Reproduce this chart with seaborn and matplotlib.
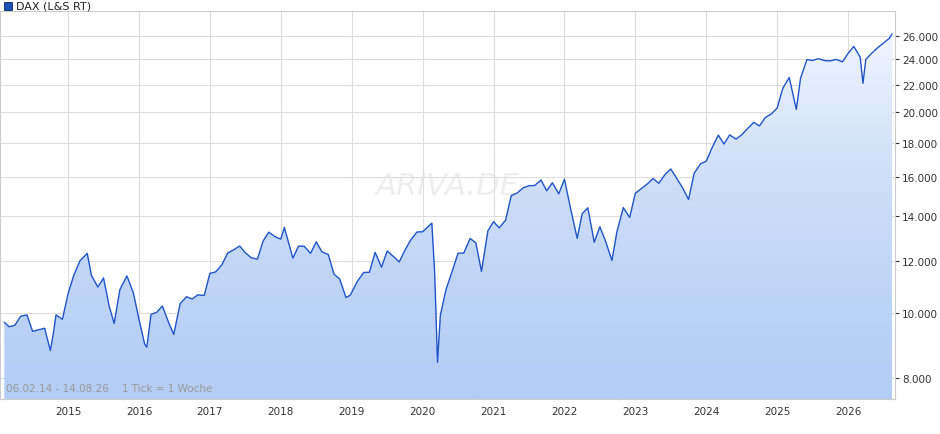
import numpy as np
import pandas as pd
import matplotlib
matplotlib.use("Agg")
import matplotlib.pyplot as plt
import matplotlib.ticker as mticker
from matplotlib.colors import LinearSegmentedColormap
import seaborn as sns

# monthly-ish values (decimal year, index level)
years = [2014.10,2014.17,2014.25,2014.33,2014.42,2014.50,2014.58,2014.67,2014.75,2014.79,2014.83,2014.92,
         2015.00,2015.08,2015.17,2015.27,2015.33,2015.42,2015.50,2015.58,2015.65,2015.73,2015.83,2015.92,
         2016.00,2016.08,2016.11,2016.17,2016.25,2016.33,2016.42,2016.49,2016.58,2016.67,2016.75,2016.83,2016.92,
         2017.00,2017.08,2017.17,2017.25,2017.33,2017.42,2017.50,2017.58,2017.67,2017.75,2017.83,2017.92,
         2018.00,2018.05,2018.17,2018.25,2018.33,2018.42,2018.50,2018.58,2018.67,2018.75,2018.83,2018.92,2018.98,
         2019.08,2019.17,2019.25,2019.33,2019.42,2019.50,2019.58,2019.67,2019.75,2019.83,2019.92,
         2020.00,2020.13,2020.17,2020.21,2020.25,2020.33,2020.42,2020.50,2020.58,2020.67,2020.75,2020.83,2020.92,
         2021.00,2021.08,2021.17,2021.25,2021.33,2021.42,2021.50,2021.58,2021.67,2021.75,2021.83,2021.92,
         2022.00,2022.08,2022.18,2022.25,2022.33,2022.42,2022.50,2022.58,2022.67,2022.74,2022.83,2022.92,
         2023.00,2023.08,2023.17,2023.25,2023.33,2023.42,2023.50,2023.58,2023.67,2023.75,2023.83,2023.92,
         2024.00,2024.08,2024.17,2024.25,2024.33,2024.42,2024.50,2024.58,2024.67,2024.75,2024.83,2024.92,
         2025.00,2025.08,2025.17,2025.27,2025.33,2025.42,2025.50,2025.58,2025.67,2025.75,2025.83,2025.92,
         2026.00,2026.08,2026.17,2026.21,2026.25,2026.33,2026.42,2026.50,2026.58,2026.62]
values = [9700,9550,9600,9900,9950,9400,9450,9500,8800,9300,9950,9800,
          10700,11400,12000,12300,11400,10950,11300,10250,9660,10850,11380,10740,
          9800,9000,8900,9965,10040,10260,9680,9300,10340,10590,10510,10660,10640,
          11480,11535,11830,12310,12440,12615,12325,12120,12055,12830,13230,13025,
          12920,13450,12100,12610,12605,12300,12800,12360,12250,11450,11260,10560,10650,
          11170,11515,11525,12345,11725,12400,12190,11940,12430,12870,13240,
          13250,13650,11500,8450,9935,10860,11590,12310,12310,12945,12760,11560,13290,
          13720,13430,13790,15010,15135,15420,15530,15540,15835,15260,15690,15100,
          15880,14460,12950,14100,14390,12780,13480,12830,12000,13250,14400,13920,
          15130,15365,15630,15920,15660,16150,16450,15950,15390,14810,16215,16750,
          16900,17680,18490,17930,18500,18235,18510,18900,19320,19080,19630,19900,
          20300,21730,22550,20200,22500,23990,23910,24065,23900,23880,24000,23800,
          24500,25100,24200,22100,24000,24500,25000,25400,25800,26200]

year_ticks = list(range(2015, 2027))
y_ticks = [8000, 10000, 12000, 14000, 16000, 18000, 20000, 22000, 24000, 26000]
y_labels = ["8.000","10.000","12.000","14.000","16.000","18.000","20.000","22.000","24.000","26.000"]

df = pd.DataFrame({"t": years, "v": values})
sns.set_style("white")
plt.rcParams['font.family'] = ['DejaVu Sans']

fig = plt.figure(figsize=(9.4, 4.35), dpi=100)
ax = fig.add_axes([0.0, 0.08, 0.952, 0.892])
ax.set_yscale("log")
ymin, ymax = 7440, 28340
xmin, xmax = 2014.04, 2026.66
ax.set_ylim(ymin, ymax)
ax.set_xlim(xmin, xmax)

grad = np.linspace(0, 1, 256).reshape(-1, 1)
cmap = LinearSegmentedColormap.from_list("g", ["#b4cdf5", "#f7faff"])
im = ax.imshow(grad, cmap=cmap, aspect="auto", origin="lower",
               extent=[xmin, xmax, ymin, ymax], zorder=1)
poly = ax.fill_between(df["t"], df["v"], ymin, color="none")
im.set_clip_path(poly.get_paths()[0], transform=ax.transData)

sns.lineplot(data=df, x="t", y="v", ax=ax, color="#1f55c8", linewidth=1.0, zorder=3)

ax.set_xticks(year_ticks)
ax.set_xticklabels([str(y) for y in year_ticks])
ax.yaxis.set_major_locator(mticker.FixedLocator(y_ticks))
ax.yaxis.set_minor_locator(mticker.NullLocator())
ax.set_yticklabels(y_labels)
ax.yaxis.tick_right()
ax.tick_params(axis="both", labelsize=7.5, colors="#333333", length=3, pad=2)
ax.set_xlabel(""); ax.set_ylabel("")
ax.grid(True, color="#dddddd", linewidth=0.8, zorder=0)
ax.set_axisbelow(True)
for s in ax.spines.values():
    s.set_color("#cccccc")

ax.text(0.007, 0.02, "06.02.14 - 14.08.26    1 Tick = 1 Woche", transform=ax.transAxes,
        fontsize=7.5, color="#999999", zorder=4)
ax.text(0.5, 0.55, "ARIVA.DE", transform=ax.transAxes, fontsize=22, color="#e4e4e4",
        alpha=0.6, style="italic", ha="center", va="center", zorder=2)
fig.patches.append(plt.Rectangle((0.004, 0.975), 0.009, 0.018, transform=fig.transFigure,
                                 facecolor="#1f4fb0", edgecolor="#0a2a70", lw=0.6))
fig.text(0.017, 0.984, "DAX (L&S RT)", fontsize=8, color="#222222", va="center")

fig.savefig("out.png", dpi=100, facecolor="white")
